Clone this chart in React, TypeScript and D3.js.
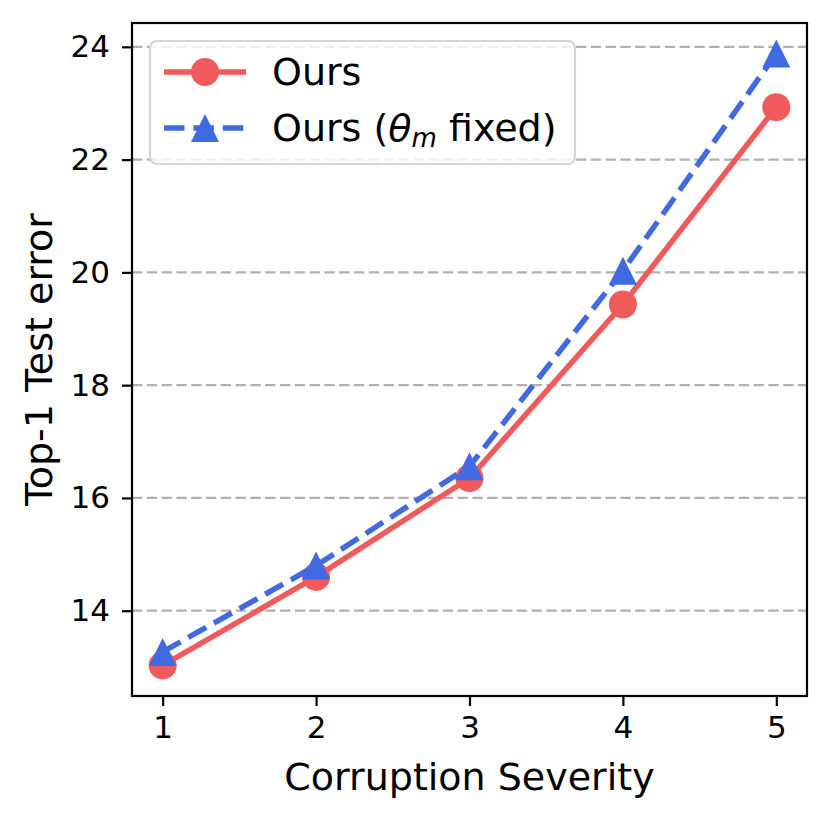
import { useEffect, useRef } from 'react'
import * as d3 from 'd3'

const severity = [1, 2, 3, 4, 5]
const ours = [13.03, 14.6, 16.35, 19.43, 22.93]
const oursFixed = [13.27, 14.8, 16.56, 20.03, 23.88]
const yTicks = [14, 16, 18, 20, 22, 24]

const RED = '#f15a5a'
const BLUE = '#4169e1'
const FONT = '"DejaVu Sans", sans-serif'

export default function App() {
  const svgRef = useRef<SVGSVGElement>(null)

  useEffect(() => {
    const svgEl = svgRef.current
    if (!svgEl) return
    const width = 830
    const height = 823
    const margin = { top: 23, right: 23, bottom: 127, left: 132 }
    const innerW = width - margin.left - margin.right
    const innerH = height - margin.top - margin.bottom

    const all = [...ours, ...oursFixed]
    const lo = d3.min(all)!
    const hi = d3.max(all)!
    const pad = (hi - lo) * 0.05

    const x = d3.scaleLinear().domain([0.8, 5.2]).range([0, innerW])
    const y = d3.scaleLinear().domain([lo - pad, hi + pad]).range([innerH, 0])

    const svg = d3.select(svgEl)
    svg.selectAll('*').remove()
    svg.append('rect').attr('width', width).attr('height', height).attr('fill', '#fff')

    const g = svg.append('g').attr('transform', `translate(${margin.left},${margin.top})`)

    // Gridlines
    g.append('g')
      .selectAll('line')
      .data(yTicks)
      .join('line')
      .attr('x1', 0)
      .attr('x2', innerW)
      .attr('y1', d => y(d))
      .attr('y2', d => y(d))
      .style('stroke', '#b0b0b0')
      .style('stroke-width', '2.2')
      .style('stroke-dasharray', '10.3 4.5')

    // Y axis
    const yAxisG = g.append('g')
    yAxisG.call(d3.axisLeft(y).tickValues(yTicks).tickSize(10).tickPadding(12).tickFormat(d => `${d}`))
    yAxisG.select('.domain').remove()
    yAxisG.selectAll('.tick line').style('stroke', '#000').style('stroke-width', '2.2')
    yAxisG.selectAll('text')
      .style('fill', '#000')
      .style('font-size', '31px')
      .style('font-family', FONT)

    // X axis
    const xAxisG = g.append('g').attr('transform', `translate(0,${innerH})`)
    xAxisG.call(d3.axisBottom(x).tickValues(severity).tickSize(10).tickPadding(10).tickFormat(d => `${d}`))
    xAxisG.select('.domain').remove()
    xAxisG.selectAll('.tick line').style('stroke', '#000').style('stroke-width', '2.2')
    xAxisG.selectAll('text')
      .style('fill', '#000')
      .style('font-size', '31px')
      .style('font-family', FONT)

    // Axis labels
    g.append('text')
      .attr('x', innerW / 2)
      .attr('y', innerH + 94)
      .attr('text-anchor', 'middle')
      .style('font-size', '38px')
      .style('font-family', FONT)
      .text('Corruption Severity')

    g.append('text')
      .attr('transform', `translate(${52 - margin.left},${innerH / 2}) rotate(-90)`)
      .attr('text-anchor', 'middle')
      .style('font-size', '38px')
      .style('font-family', FONT)
      .text('Top-1 Test error')

    const line = d3.line<number>()
      .x((_, i) => x(severity[i]))
      .y(d => y(d))

    const tri = (r: number) => `M0,${-r}L${r},${r}L${-r},${r}Z`

    // Ours
    g.append('path')
      .datum(ours)
      .attr('fill', 'none')
      .attr('d', line)
      .style('stroke', RED)
      .style('stroke-width', '5.5')
    g.append('g')
      .selectAll('circle')
      .data(ours)
      .join('circle')
      .attr('cx', (_, i) => x(severity[i]))
      .attr('cy', d => y(d))
      .attr('r', 14)
      .style('fill', RED)

    // Ours (theta_m fixed)
    g.append('path')
      .datum(oursFixed)
      .attr('fill', 'none')
      .attr('d', line)
      .style('stroke', BLUE)
      .style('stroke-width', '5.5')
      .style('stroke-dasharray', '20.5 8.9')
    g.append('g')
      .selectAll('path')
      .data(oursFixed)
      .join('path')
      .attr('transform', (d, i) => `translate(${x(severity[i])},${y(d)})`)
      .attr('d', tri(14))
      .style('fill', BLUE)

    // Frame
    g.append('rect')
      .attr('width', innerW)
      .attr('height', innerH)
      .attr('fill', 'none')
      .style('stroke', '#000')
      .style('stroke-width', '2.2')

    // Legend
    const lg = svg.append('g')
    lg.append('rect')
      .attr('x', 150)
      .attr('y', 41)
      .attr('width', 425)
      .attr('height', 123)
      .attr('rx', 7)
      .style('fill', 'rgba(255,255,255,0.8)')
      .style('stroke', '#d5d5d5')
      .style('stroke-width', '2.2')

    const items = [
      { label: 'Ours', color: RED, dash: null, marker: 'circle' },
      { label: 'fixed', color: BLUE, dash: '20.5 8.9', marker: 'tri' },
    ]
    items.forEach((it, i) => {
      const cy = 72 + i * 56
      lg.append('line')
        .attr('x1', 164)
        .attr('x2', 246)
        .attr('y1', cy)
        .attr('y2', cy)
        .style('stroke', it.color)
        .style('stroke-width', '5.5')
        .style('stroke-dasharray', it.dash ?? 'none')
      if (it.marker === 'circle') {
        lg.append('circle').attr('cx', 205).attr('cy', cy).attr('r', 14).style('fill', it.color)
      } else {
        lg.append('path').attr('transform', `translate(205,${cy})`).attr('d', tri(14)).style('fill', it.color)
      }
      const t = lg.append('text')
        .attr('x', 272)
        .attr('y', cy + 13)
        .style('font-size', '38px')
        .style('font-family', FONT)
      if (i === 0) {
        t.text('Ours')
      } else {
        t.append('tspan').text('Ours (')
        t.append('tspan').style('font-style', 'italic').text('θ')
        t.append('tspan').style('font-style', 'italic').style('font-size', '26px').attr('dy', 6).text('m')
        t.append('tspan').attr('dy', -6).text(' fixed)')
      }
    })
  }, [])

  return (
    <svg
      ref={svgRef}
      width={830}
      height={823}
      style={{ position: 'absolute', left: 0, top: 0 }}
    />
  )
}
